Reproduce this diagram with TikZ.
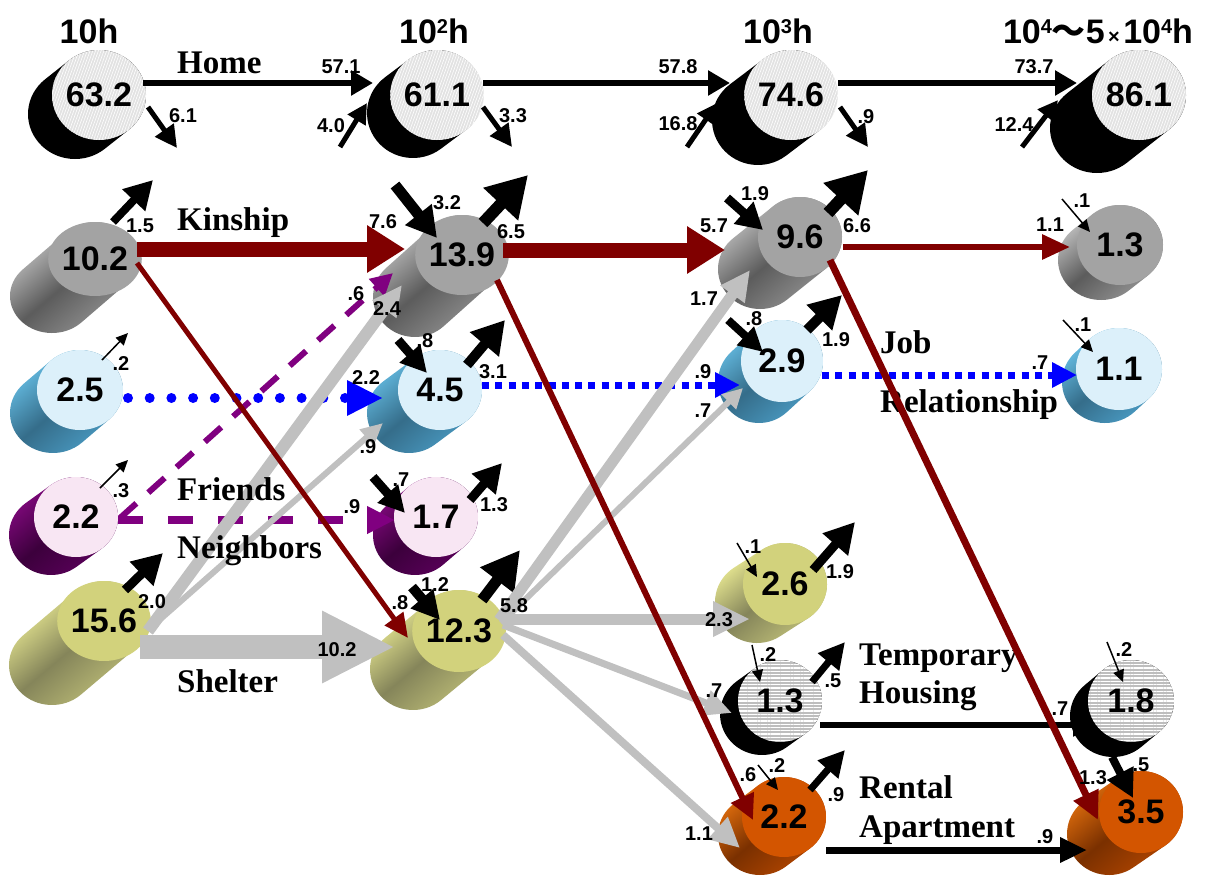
\documentclass[tikz,border=0pt]{standalone}
\usepackage{fontspec}
\setmainfont{Liberation Sans}
\newfontfamily\serifb{Liberation Serif}
\newfontfamily\cjkf{Noto Sans CJK JP}
\usetikzlibrary{arrows.meta,shapes.geometric,patterns.meta}
\definecolor{dred}{HTML}{800000}
\definecolor{agray}{HTML}{C0C0C0}
\definecolor{apurple}{HTML}{800080}
\definecolor{abl}{HTML}{0000FF}
\definecolor{homef}{HTML}{E2E2E2}
\definecolor{kinf}{HTML}{A3A3A3}
\definecolor{kinl}{HTML}{D0D0D0}
\definecolor{kind}{HTML}{5C5C5C}
\definecolor{kinm}{HTML}{999999}
\definecolor{bluef}{HTML}{DCF0FA}
\definecolor{bluel}{HTML}{6CC8F0}
\definecolor{blued}{HTML}{356D8A}
\definecolor{bluem}{HTML}{4C9FC8}
\definecolor{purpf}{HTML}{F8E6F3}
\definecolor{purpl}{HTML}{8C0A88}
\definecolor{purpd}{HTML}{3C003C}
\definecolor{purpm}{HTML}{5E005E}
\definecolor{yelf}{HTML}{D2D27C}
\definecolor{yell}{HTML}{FAFA9C}
\definecolor{yeld}{HTML}{85855A}
\definecolor{yelm}{HTML}{C6C67C}
\definecolor{orngf}{HTML}{D35500}
\definecolor{orngl}{HTML}{F47A10}
\definecolor{orngd}{HTML}{7A3000}
\definecolor{orngm}{HTML}{B84800}
\definecolor{tempf}{HTML}{BEBEBE}
\tikzset{
  ar/.style n args={3}{line width=#1pt,-{Triangle[length=#2pt,width=#3pt]}},
  lab/.style={font=\bfseries\fontsize{20}{20}\selectfont,inner sep=0pt},
  rowlab/.style={font=\serifb\bfseries\fontsize{33}{33}\selectfont,anchor=base west,inner sep=0pt},
  hdr/.style={font=\bfseries\fontsize{34}{34}\selectfont,anchor=base,inner sep=0pt},
  face/.style={ellipse,inner sep=0pt,font=\bfseries\fontsize{34}{34}\selectfont},
  homeface/.style={face,fill=homef,postaction={pattern={Lines[angle=70,distance=2.6pt,line width=0.6pt]},pattern color=white}},
  homebody/.style={fill=black},
  tempface/.style={face,fill=tempf,postaction={pattern={Lines[angle=0,distance=3.3pt,line width=1.3pt]},pattern color=white}},
  tempbody/.style={fill=black},
  grayface/.style={face,fill=kinf},
  graybody/.style={top color=kinl,bottom color=kinm,middle color=kind,shading angle=40},
  blueface/.style={face,fill=bluef},
  bluebody/.style={top color=bluel,bottom color=bluem,middle color=blued,shading angle=40},
  purpface/.style={face,fill=purpf},
  purpbody/.style={top color=purpl,bottom color=purpm,middle color=purpd,shading angle=40},
  yelface/.style={face,fill=yelf},
  yelbody/.style={top color=yell,bottom color=yelm,middle color=yeld,shading angle=40},
  orngface/.style={face,fill=orngf},
  orngbody/.style={top color=orngl,bottom color=orngm,middle color=orngd,shading angle=40},
  rounddots/.style={draw=abl,line width=10pt,dash pattern=on 0pt off 21.7pt,line cap=round,-{Triangle[length=36pt,width=33pt]}},
  sqdots/.style={draw=abl,line width=7pt,dash pattern=on 7pt off 6.3pt,-{Triangle[length=25pt,width=24pt]}},
}
\newcommand\hsup[1]{\raisebox{10pt}{\fontsize{20}{20}\selectfont #1}}
\newcommand\cyl[9]{%
  \pgfmathsetmacro\cyX{#2}%
  \pgfmathsetmacro\cyY{-1*(#3)}%
  \pgfmathsetmacro\cyOX{#6}%
  \pgfmathsetmacro\cyOY{-1*(#7)}%
  \pgfmathsetmacro\cyT{atan2(-1*(#5)*(\cyOX),(#4)*(\cyOY))}%
  \pgfmathsetmacro\cyD{-1*sin(\cyT)*(#4)*(\cyOX)+cos(\cyT)*(#5)*(\cyOY)}%
  \pgfmathsetmacro\cyT{(\cyD<0) ? (\cyT+180) : (\cyT)}%
  \pgfmathsetmacro\cyU{\cyT+180}%
  \pgfmathsetmacro\cyV{\cyT+360}%
  \pgfmathsetmacro\cyPX{\cyX+(#4)*cos(\cyT)}%
  \pgfmathsetmacro\cyPY{\cyY+(#5)*sin(\cyT)}%
  \pgfmathsetmacro\cyMX{-1*(\cyOX)}%
  \pgfmathsetmacro\cyMY{-1*(\cyOY)}%
  \path[#8body] (\cyPX pt,\cyPY pt) -- ++(\cyOX pt,\cyOY pt)
    arc[start angle=\cyT,end angle=\cyU,x radius=#4pt,y radius=#5pt]
    -- ++(\cyMX pt,\cyMY pt)
    arc[start angle=\cyU,end angle=\cyV,x radius=#4pt,y radius=#5pt] -- cycle;
  \node[#8face,minimum width=#4pt*2,minimum height=#5pt*2] (#1) at (#2,#3) {#9};
}
\begin{document}
\begin{tikzpicture}[x=1pt,y=-1pt]
\fill[white] (0,0) rectangle (1224,876);
\useasboundingbox (0,0) rectangle (1224,876);
% headers
\node[hdr] (hd1) at (89,43) {10h};
\node[hdr] (hd2) at (434,43) {10\hsup{2}h};
\node[hdr] (hd3) at (778,43) {10\hsup{3}h};
\node[hdr] (hd4) at (1098,43) {10\hsup{4}{\cjkf ～}5{\fontsize{20}{20}\selectfont\,×\,}10\hsup{4}h};
% cylinders
\cyl{h1}{99}{95}{47}{45}{-24}{19}{home}{63.2}
\cyl{h2}{437}{95}{46}{45}{-24}{18}{home}{61.1}
\cyl{h3}{791}{95}{46}{45}{-33}{25}{home}{74.6}
\cyl{h4}{1139}{95}{47}{45}{-42}{33}{home}{86.1}
\cyl{k1}{95}{259}{42}{37}{-43}{37}{gray}{10.2}
\cyl{k2}{462}{255}{42}{40}{-47}{42}{gray}{13.9}
\cyl{k3}{800}{237}{42}{40}{-40}{32}{gray}{9.6}
\cyl{k4}{1120}{245}{43}{40}{-19}{15}{gray}{1.3}
\cyl{j1}{80}{390}{43}{40}{-27}{23}{blue}{2.5}
\cyl{j2}{440}{390}{42}{40}{-31}{23}{blue}{4.5}
\cyl{j3}{782}{361}{41}{41}{-23}{21}{blue}{2.9}
\cyl{j4}{1119}{369}{43}{41}{-14}{13}{blue}{1.1}
\cyl{f1}{76}{517}{42}{40}{-25}{18}{purp}{2.2}
\cyl{f2}{436}{517}{42}{40}{-21}{18}{purp}{1.7}
\cyl{s1}{104}{621}{43}{40}{-52}{44}{yel}{15.6}
\cyl{s2}{459}{631}{43}{41}{-46}{38}{yel}{12.3}
\cyl{s3}{785}{584}{42}{41}{-28}{18}{yel}{2.6}
\cyl{t1}{780}{701}{42}{41}{-18}{13}{temp}{1.3}
\cyl{t2}{1131}{701}{43}{41}{-18}{15}{temp}{1.8}
\cyl{r1}{784}{817}{42}{40}{-24}{18}{orng}{2.2}
\cyl{r2}{1141}{812}{42}{41}{-32}{22}{orng}{3.5}
% free ends
\coordinate (i2) at (340,147);
\coordinate (o1) at (177,148);
\coordinate (o2) at (512,147);
\coordinate (i3) at (687,147);
\coordinate (o3) at (868,147);
\coordinate (i4) at (1022,147);
\coordinate (ok1) at (153,180);
\coordinate (ik2) at (395,185);
\coordinate (ok2) at (528,175);
\coordinate (ik3) at (727,198);
\coordinate (ok3) at (868,170);
\coordinate (ik4) at (1062,199);
\coordinate (oj1) at (128,333);
\coordinate (ij2) at (398,340);
\coordinate (oj2) at (505,320);
\coordinate (ij3) at (728,320);
\coordinate (oj3) at (842,295);
\coordinate (ij4) at (1063,320);
\coordinate (of1) at (128,460);
\coordinate (if2) at (373,477);
\coordinate (of2) at (502,463);
\coordinate (os1) at (163,553);
\coordinate (is2) at (412,587);
\coordinate (os2) at (520,550);
\coordinate (is3) at (737,543);
\coordinate (os3) at (855,522);
\coordinate (ot1) at (845,642);
\coordinate (it2) at (1107,642);
\coordinate (ir1) at (758,765);
\coordinate (or1) at (845,750);
% home row
\draw[ar={6}{22}{24}] ([shift={(44,-12)}]h1.center) -- ([shift={(-64,-12)}]h2.center);
\draw[ar={5}{20}{20}] (i2) -- ([shift={(-70,8)}]h2.center);
\draw[ar={5}{22}{22}] ([shift={(49,12)}]h1.center) -- (o1);
\draw[ar={6}{22}{24}] ([shift={(46,-12)}]h2.center) -- ([shift={(-61,-12)}]h3.center);
\draw[ar={5}{22}{22}] ([shift={(46,12)}]h2.center) -- (o2);
\draw[ar={5}{20}{20}] (i3) -- ([shift={(-74,8)}]h3.center);
\draw[ar={6}{22}{24}] ([shift={(47,-12)}]h3.center) -- ([shift={(-62,-12)}]h4.center);
\draw[ar={5}{22}{22}] ([shift={(49,12)}]h3.center) -- (o3);
\draw[ar={5}{20}{20}] (i4) -- ([shift={(-81,5)}]h4.center);
% kinship row
\draw[ar={8}{28}{30}] ([shift={(18,-37)}]k1.center) -- (ok1);
\draw[ar={15}{38}{45},draw=dred] ([shift={(42,-10)}]k1.center) -- ([shift={(-57,-6)}]k2.center);
\draw[ar={11}{30}{32}] (ik2) -- ([shift={(-25,-17)}]k2.center);
\draw[ar={12}{40}{45}] ([shift={(21,-32)}]k2.center) -- (ok2);
\draw[ar={15}{38}{45},draw=dred] ([shift={(41,-5)}]k2.center) -- ([shift={(-75,13)}]k3.center);
\draw[ar={9}{26}{28}] (ik3) -- ([shift={(-37,-7)}]k3.center);
\draw[ar={12}{40}{45}] ([shift={(28,-24)}]k3.center) -- (ok3);
\draw[ar={6}{28}{24},draw=dred] ([shift={(43,10)}]k3.center) -- ([shift={(-50,2)}]k4.center);
\draw[ar={1.5}{12}{11}] (ik4) -- ([shift={(-30,-13)}]k4.center);
% job row
\draw[ar={1.5}{12}{11}] ([shift={(22,-30)}]j1.center) -- (oj1);
\draw[rounddots] ([shift={(48,8)}]j1.center) -- ([shift={(-57,8)}]j2.center);
\draw[ar={9}{26}{26}] (ij2) -- ([shift={(-13,-17)}]j2.center);
\draw[ar={10}{32}{36}] ([shift={(27,-25)}]j2.center) -- (oj2);
\draw[sqdots] ([shift={(42,-5)}]j2.center) -- ([shift={(-42,24)}]j3.center);
\draw[ar={8}{24}{24}] (ij3) -- ([shift={(-19,-9)}]j3.center);
\draw[ar={10}{32}{34}] ([shift={(25,-31)}]j3.center) -- (oj3);
\draw[sqdots] ([shift={(40,14)}]j3.center) -- ([shift={(-42,6)}]j4.center);
\draw[ar={1.5}{12}{11}] (ij4) -- ([shift={(-26,-17)}]j4.center);
% friends row
\draw[ar={1.5}{12}{11}] ([shift={(24,-29)}]f1.center) -- (of1);
\draw[draw=apurple,line width=8pt,dash pattern=on 25pt off 25pt,-{Triangle[length=28pt,width=26pt]}] ([shift={(42,3)}]f1.center) -- ([shift={(-41,3)}]f2.center);
\draw[draw=apurple,line width=6pt,dash pattern=on 22pt off 16pt,-{Triangle[length=22pt,width=22pt]}] ([shift={(44,1)}]f1.center) -- ([shift={(-69,18)}]k2.center);
\draw[ar={9}{26}{26}] (if2) -- ([shift={(-31,-4)}]f2.center);
\draw[ar={9}{28}{30}] ([shift={(34,-17)}]f2.center) -- (of2);
% shelter row
\draw[ar={9}{30}{32}] ([shift={(21,-31)}]s1.center) -- (os1);
\draw[ar={24}{73}{67},draw=agray] ([shift={(36,26)}]s1.center) -- ([shift={(-64,16)}]s2.center);
\draw[ar={12}{30}{28},draw=agray] ([shift={(44,10)}]s1.center) -- ([shift={(-60,30)}]k2.center);
\draw[ar={6}{22}{20},draw=agray] ([shift={(44,9)}]s1.center) -- ([shift={(-57,33)}]j2.center);
\draw[ar={10}{28}{28}] (is2) -- ([shift={(-19,-11)}]s2.center);
\draw[ar={11}{38}{40}] ([shift={(23,-31)}]s2.center) -- (os2);
\draw[ar={11}{30}{28},draw=agray] ([shift={(40,-11)}]s2.center) -- ([shift={(-50,33)}]k3.center);
\draw[ar={6}{20}{20},draw=agray] ([shift={(42,-8)}]s2.center) -- ([shift={(-39,27)}]j3.center);
\draw[ar={11}{37}{33},draw=agray] ([shift={(44,-12)}]s2.center) -- ([shift={(-35,35)}]s3.center);
\draw[ar={7}{28}{25},draw=agray] ([shift={(44,-6)}]s2.center) -- ([shift={(-48,12)}]t1.center);
\draw[ar={8}{30}{28},draw=agray] ([shift={(44,4)}]s2.center) -- ([shift={(-44,31)}]r1.center);
% right part
\draw[ar={1.5}{12}{11}] (is3) -- ([shift={(-28,-7)}]s3.center);
\draw[ar={9}{30}{32}] ([shift={(28,-14)}]s3.center) -- (os3);
\draw[ar={1.5}{12}{11}] ([shift={(-33,61)}]s3.center) -- ([shift={(-20,-19)}]t1.center);
\draw[ar={7}{26}{26}] ([shift={(32,-19)}]t1.center) -- (ot1);
\draw[ar={6}{22}{22}] ([shift={(40,24)}]t1.center) -- ([shift={(-36,24)}]t2.center);
\draw[ar={1.5}{12}{11}] (it2) -- ([shift={(-8,-19)}]t2.center);
\draw[ar={8}{28}{28}] ([shift={(-19,56)}]t2.center) -- ([shift={(-8,-14)}]r2.center);
\draw[ar={1.5}{12}{11}] (ir1) -- ([shift={(-6,-27)}]r1.center);
\draw[ar={7}{26}{26}] ([shift={(26,-27)}]r1.center) -- (or1);
\draw[ar={7}{27}{24}] ([shift={(42,33)}]r1.center) -- ([shift={(-54,38)}]r2.center);
% row labels
\node[rowlab] (lhome) at (177,73) {Home};
\node[rowlab] (lkin) at (177,230) {Kinship};
\node[rowlab] (lfri) at (177,500) {Friends};
\node[rowlab] (lnei) at (177,558) {Neighbors};
\node[rowlab] (lshe) at (177,692) {Shelter};
\node[rowlab] (ljob) at (880,353) {Job};
\node[rowlab] (lrel) at (880,412) {Relationship};
\node[rowlab] (ltem) at (859,665) {Temporary};
\node[rowlab] (lhou) at (859,703) {Housing};
\node[rowlab] (lren) at (859,798) {Rental};
\node[rowlab] (lapa) at (859,837) {Apartment};
% crossing kinship lines
\draw[ar={5}{24}{22},draw=dred] ([shift={(42,4)}]k1.center) -- ([shift={(-51,7)}]s2.center);
\draw[ar={6}{25}{24},draw=dred] ([shift={(35,25)}]k2.center) -- ([shift={(-31,3)}]r1.center);
\draw[ar={7}{28}{26},draw=dred] ([shift={(30,23)}]k3.center) -- ([shift={(-43,8)}]r2.center);
% number labels
\node[lab] (n1) at (341,67) {57.1};
\node[lab] (n2) at (331,126) {4.0};
\node[lab] (n3) at (183,116) {6.1};
\node[lab] (n4) at (678,67) {57.8};
\node[lab] (n5) at (513,116) {3.3};
\node[lab] (n6) at (678,124) {16.8};
\node[lab] (n7) at (1034,67) {73.7};
\node[lab] (n8) at (866,117) {.9};
\node[lab] (n9) at (1014,125) {12.4};
\node[lab] (n10) at (140,226) {1.5};
\node[lab] (n11) at (383,222) {7.6};
\node[lab] (n12) at (447,203) {3.2};
\node[lab] (n13) at (511,232) {6.5};
\node[lab] (n14) at (714,226) {5.7};
\node[lab] (n15) at (755,194) {1.9};
\node[lab] (n16) at (857,226) {6.6};
\node[lab] (n17) at (1050,225) {1.1};
\node[lab] (n18) at (1082,201) {.1};
\node[lab] (n19) at (400,603) {.8};
\node[lab] (n20) at (748,775) {.6};
\node[lab] (n21) at (1093,778) {1.3};
\node[lab] (n22) at (121,364) {.2};
\node[lab] (n23) at (366,378) {2.2};
\node[lab] (n24) at (425,341) {.8};
\node[lab] (n25) at (493,372) {3.1};
\node[lab] (n26) at (703,372) {.9};
\node[lab] (n27) at (754,319) {.8};
\node[lab] (n28) at (836,340) {1.9};
\node[lab] (n29) at (1040,363) {.7};
\node[lab] (n30) at (1083,325) {.1};
\node[lab] (n31) at (121,491) {.3};
\node[lab] (n32) at (352,507) {.9};
\node[lab] (n33) at (356,294) {.6};
\node[lab] (n34) at (401,480) {.7};
\node[lab] (n35) at (494,505) {1.3};
\node[lab] (n36) at (152,602) {2.0};
\node[lab] (n37) at (337,650) {10.2};
\node[lab] (n38) at (387,309) {2.4};
\node[lab] (n39) at (368,447) {.9};
\node[lab] (n40) at (435,585) {1.2};
\node[lab] (n41) at (514,606) {5.8};
\node[lab] (n42) at (704,299) {1.7};
\node[lab] (n43) at (703,411) {.7};
\node[lab] (n44) at (719,620) {2.3};
\node[lab] (n45) at (714,691) {.7};
\node[lab] (n46) at (699,834) {1.1};
\node[lab] (n47) at (753,547) {.1};
\node[lab] (n48) at (840,572) {1.9};
\node[lab] (n49) at (768,655) {.2};
\node[lab] (n50) at (833,681) {.5};
\node[lab] (n51) at (1060,709) {.7};
\node[lab] (n52) at (1124,650) {.2};
\node[lab] (n53) at (1141,765) {.5};
\node[lab] (n54) at (777,766) {.2};
\node[lab] (n55) at (836,795) {.9};
\node[lab] (n56) at (1045,837) {.9};
\end{tikzpicture}
\end{document}
